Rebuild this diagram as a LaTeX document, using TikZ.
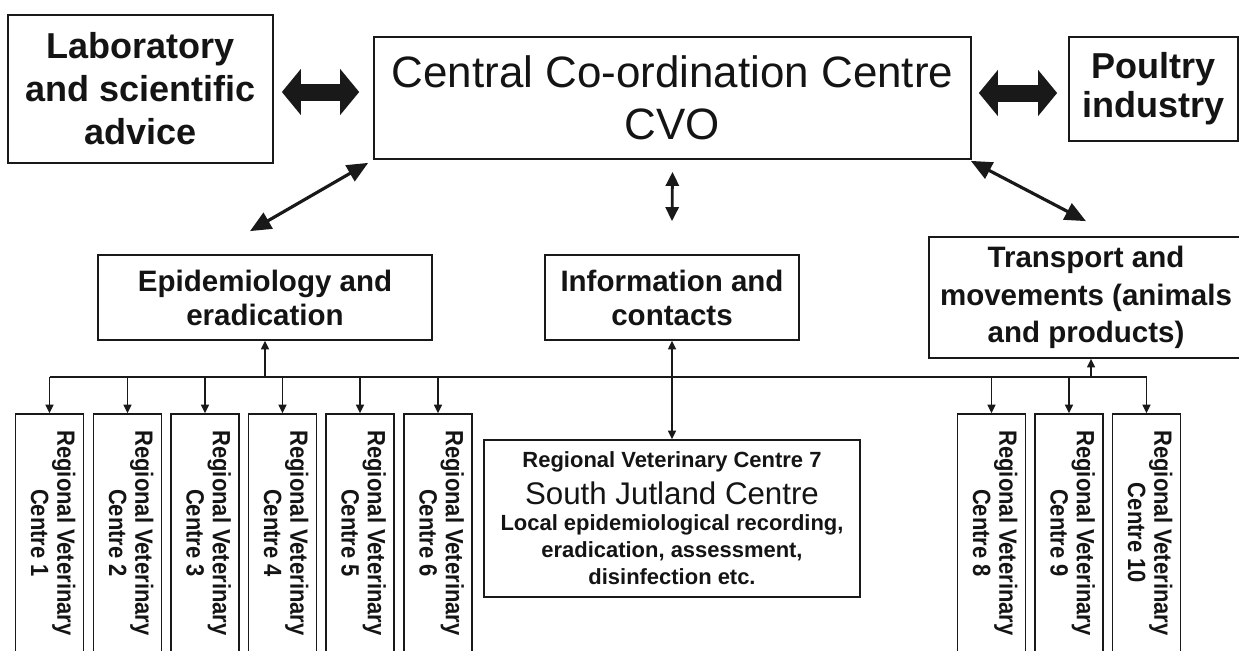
\documentclass[tikz,border=0pt]{standalone}
\usepackage{graphicx}
\usepackage{fontspec}
\setmainfont{Liberation Sans}
\newfontfamily\narrowfont[FakeStretch=0.88]{Liberation Sans}
\usetikzlibrary{positioning,arrows.meta}
\definecolor{colorwhite}{RGB}{255,255,255}
\definecolor{colortext} {RGB}{ 20, 20, 20}
\definecolor{colorline} {RGB}{ 25, 25, 25}

\begin{document}
\begin{tikzpicture}[
    x=0.02cm, y=-0.02cm,
    box/.style={draw=colorline,line width=1pt,inner sep=0pt,align=center,text=colortext},
    side/.style={box,font={\fontsize{20.5}{24.5}\selectfont\bfseries}},
    head/.style={box,font={\fontsize{25}{29.5}\selectfont}},
    unit/.style={box,minimum height=1.7cm,font={\fontsize{16.8}{19.3}\selectfont\bfseries}},
    centre/.style={box,minimum width=1.36cm,minimum height=4.76cm,font={\narrowfont\bfseries\fontsize{14.2}{15}\selectfont}},
    link/.style={-{Triangle[length=0.17cm,width=0.16cm]},line width=0.8pt,draw=colorline},
    twolink/.style={{Triangle[length=0.17cm,width=0.16cm]}-{Triangle[length=0.17cm,width=0.16cm]},line width=0.8pt,draw=colorline},
    vlink/.style={{Triangle[length=0.28cm,width=0.26cm]}-{Triangle[length=0.28cm,width=0.26cm]},line width=1.6pt,draw=colorline},
    diag/.style={{Triangle[length=0.42cm,width=0.36cm]}-{Triangle[length=0.42cm,width=0.36cm]},line width=1.8pt,draw=colorline},
    fat/.style={{Triangle[length=0.38cm,width=0.9cm]}-{Triangle[length=0.38cm,width=0.9cm]},line width=0.34cm,draw=colorline}
]
    \useasboundingbox (0,0) rectangle (1239,650);
    \fill[colorwhite] (0,0) rectangle (1239,650);
    \clip (0,0) rectangle (1239,650);

    % Top row
    \node[side,minimum width=5.3cm,minimum height=2.96cm] (lab) at (140.5,89) {Laboratory\\and scientific\\advice};
    \node[head,minimum width=11.94cm,minimum height=2.44cm] (cco) at (672.5,98) {Central Co-ordination Centre\\CVO};
    \node[side,minimum width=3.38cm,minimum height=2.08cm,font={\fontsize{20.5}{22}\selectfont\bfseries}] (poultry) at (1153.5,89) {Poultry\\industry};

    % Big arrows
    \draw[fat] ([shift={(8,3)}]lab.east) -- ([shift={(-14,-6)}]cco.west);
    \draw[fat] ([shift={(7,-5)}]cco.east) -- ([shift={(-11,4)}]poultry.west);

    % Units
    \node[unit,minimum width=6.68cm] (epid) at (265,297.5) {Epidemiology and\\eradication};
    \node[unit,minimum width=5.08cm] (info) at (672,297.5) {Information and\\contacts};
    \node[unit,minimum width=6.28cm,minimum height=2.42cm,font={\fontsize{16.8}{21.5}\selectfont\bfseries}] (trans) at (1086,297.5) {Transport and\\movements (animals\\and products)};

    % Arrows from the centre
    \draw[diag] ([shift={(-5,3)}]cco.south west) -- ([shift={(-15,-23)}]epid.north);
    \draw[vlink] ([shift={(0,12)}]cco.south) -- ([shift={(0,-33)}]info.north);
    \draw[diag] ([shift={(-1,1)}]cco.south east) -- ([shift={(0,-15)}]trans.north);

    % Regional centres
    \node[centre] (rv1) at (49.5,533) {\rotatebox{-90}{\begin{tabular}{@{}c@{}}Regional Veterinary\\Centre 1\end{tabular}}};
    \node[centre] (rv2) at (127.5,533) {\rotatebox{-90}{\begin{tabular}{@{}c@{}}Regional Veterinary\\Centre 2\end{tabular}}};
    \node[centre] (rv3) at (205,533) {\rotatebox{-90}{\begin{tabular}{@{}c@{}}Regional Veterinary\\Centre 3\end{tabular}}};
    \node[centre] (rv4) at (282.5,533) {\rotatebox{-90}{\begin{tabular}{@{}c@{}}Regional Veterinary\\Centre 4\end{tabular}}};
    \node[centre] (rv5) at (360,533) {\rotatebox{-90}{\begin{tabular}{@{}c@{}}Regional Veterinary\\Centre 5\end{tabular}}};
    \node[centre] (rv6) at (438,533) {\rotatebox{-90}{\begin{tabular}{@{}c@{}}Regional Veterinary\\Centre 6\end{tabular}}};
    \node[box,minimum width=7.52cm,minimum height=3.14cm,font={\bfseries\fontsize{12.5}{15.3}\selectfont}] (rv7) at (672,518.5)
        {Regional Veterinary Centre 7\\[4pt]{\mdseries\fontsize{17.8}{20}\selectfont South Jutland Centre}\\Local epidemiological recording,\\eradication, assessment,\\disinfection etc.};
    \node[centre] (rv8) at (991.5,533) {\rotatebox{-90}{\begin{tabular}{@{}c@{}}Regional Veterinary\\Centre 8\end{tabular}}};
    \node[centre] (rv9) at (1069,533) {\rotatebox{-90}{\begin{tabular}{@{}c@{}}Regional Veterinary\\Centre 9\end{tabular}}};
    \node[centre] (rv10) at (1146.5,533) {\rotatebox{-90}{\begin{tabular}{@{}c@{}}Regional Veterinary\\Centre 10\end{tabular}}};

    % Bus line
    \coordinate (bus) at (0,377);
    \coordinate (tbus) at (1091,377);
    \draw[line width=0.8pt,colorline] (rv1.north |- bus) -- (rv10.north |- bus);
    \draw[link] (epid.south |- bus) -- (epid.south);
    \draw[link] (tbus) -- (tbus |- trans.south);
    \draw[twolink] (info.south) -- (rv7.north);

    % Arrows to regional centres
    \draw[link] (rv1.north |- bus) -- (rv1.north);
    \draw[link] (rv2.north |- bus) -- (rv2.north);
    \draw[link] (rv3.north |- bus) -- (rv3.north);
    \draw[link] (rv4.north |- bus) -- (rv4.north);
    \draw[link] (rv5.north |- bus) -- (rv5.north);
    \draw[link] (rv6.north |- bus) -- (rv6.north);
    \draw[link] (rv8.north |- bus) -- (rv8.north);
    \draw[link] (rv9.north |- bus) -- (rv9.north);
    \draw[link] (rv10.north |- bus) -- (rv10.north);

\end{tikzpicture}
\end{document}
